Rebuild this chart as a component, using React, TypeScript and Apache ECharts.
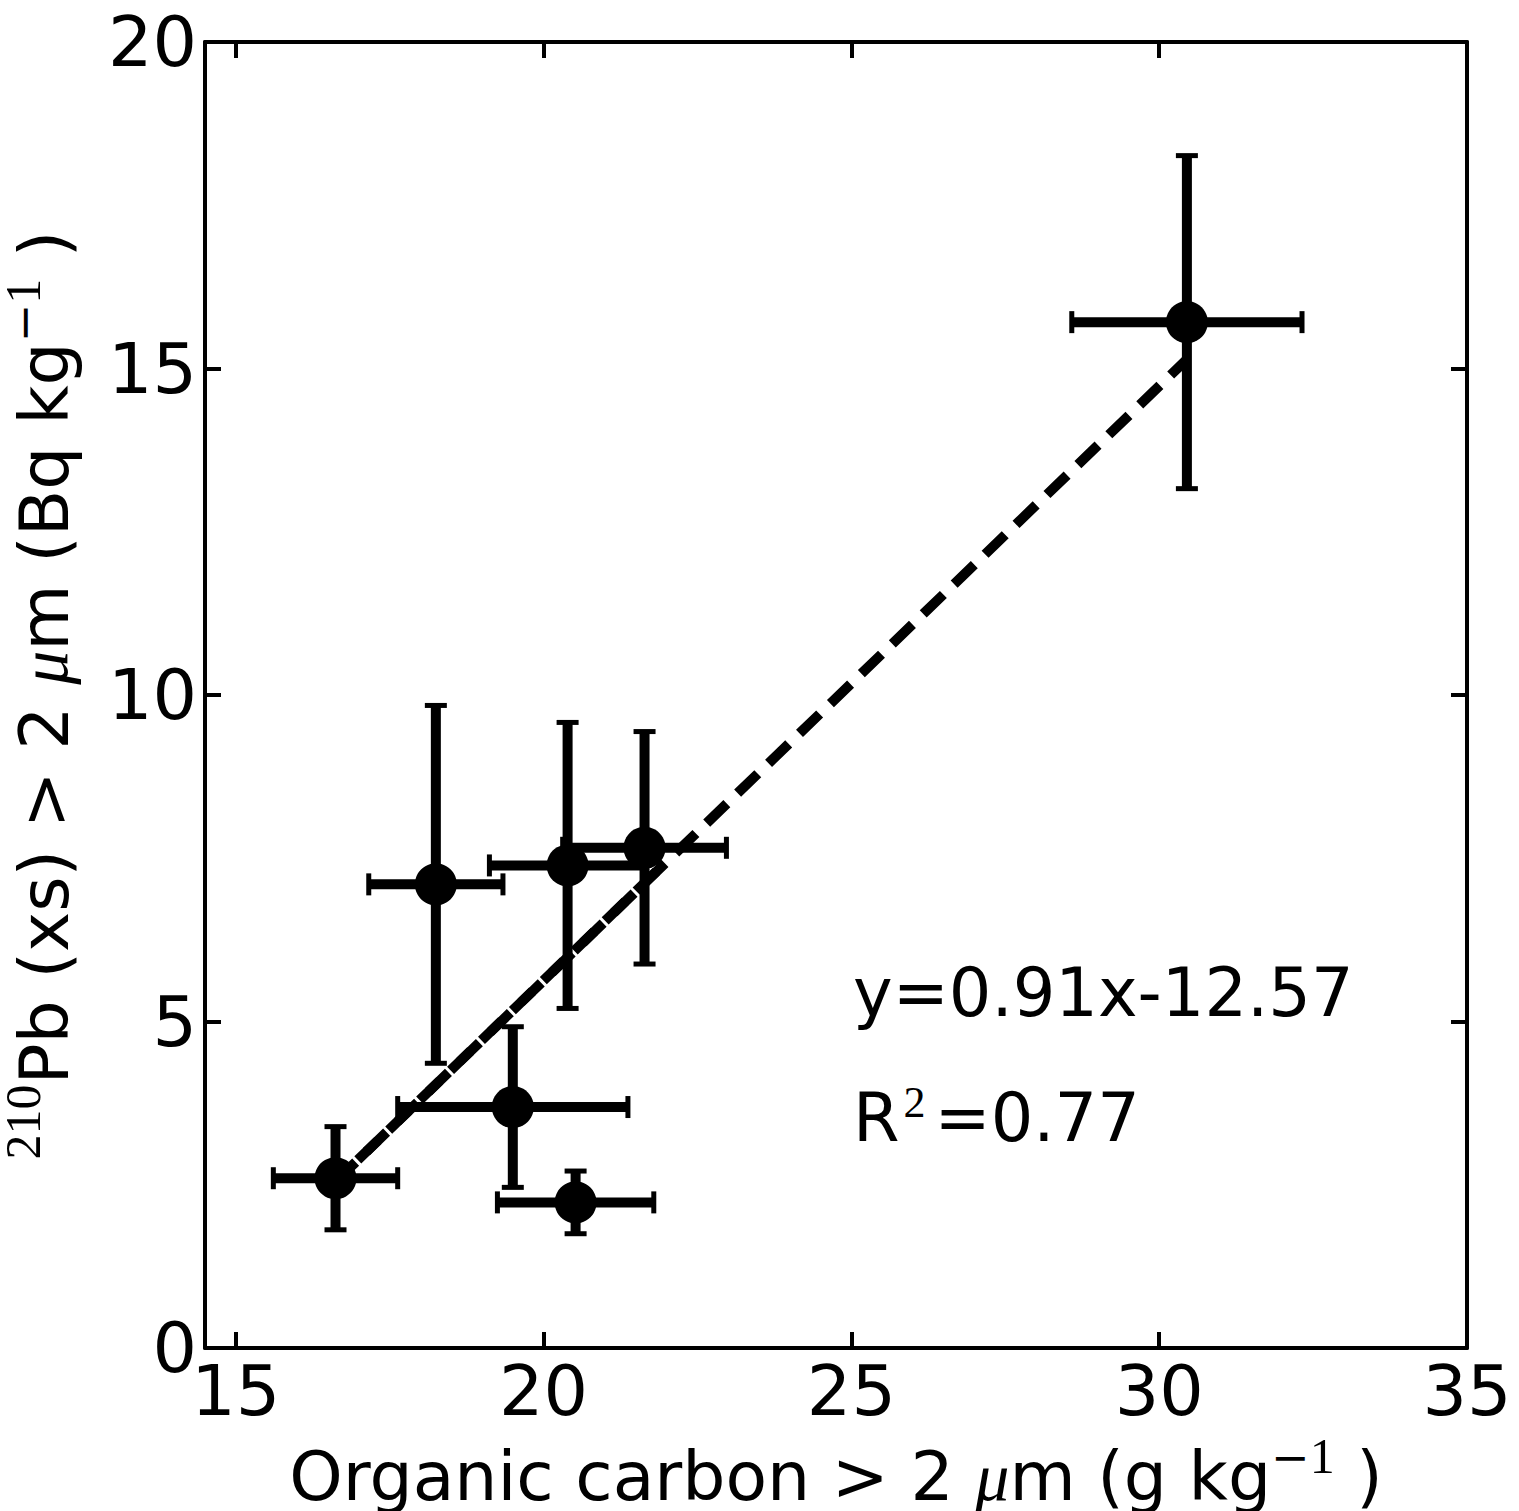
import React, { useEffect, useRef } from "react";
import * as echarts from "echarts";

// Data
const ocValues = [16.62, 18.25, 20.39, 21.64, 19.5, 20.52, 30.45];
const pbValues = [2.6, 7.1, 7.39, 7.66, 3.69, 2.23, 15.71];
const ocErrors = [1.01, 1.09, 1.27, 1.33, 1.87, 1.27, 1.87];
const pbErrors = [0.79, 2.74, 2.19, 1.78, 1.23, 0.48, 2.55];

const fitX = [16.62, 30.45];
const fitY = [2.55, 15.14];
const fitOverlayX = [16.62, 21.9];
const fitOverlayY = [2.55, 7.36];

const xTicks = [15, 20, 25, 30, 35];
const yTicks = [0, 5, 10, 15, 20];
const equationText = "y=0.91x-12.57";
const r2Text = "0.77";

const SANS = "DejaVu Sans";
const SERIF = "Liberation Serif";

export default function App() {
  const ref = useRef<HTMLDivElement>(null);
  useEffect(() => {
    document.body.style.margin = "0";
    document.body.style.overflow = "hidden";
    const chart = echarts.init(ref.current!, null, { renderer: "svg" });

    const points = ocValues.map((x, i) => [x, pbValues[i]]);
    const errData = ocValues.map((x, i) => [x, pbValues[i], ocErrors[i], pbErrors[i]]);

    const richLabel = {
      sup: { fontSize: 50, fontFamily: SERIF, color: "#000", verticalAlign: "top", lineHeight: 20, padding: [-12, 0, 0, 0] },
      supm: { fontSize: 46, fontFamily: SANS, color: "#000", verticalAlign: "top", lineHeight: 20, padding: [-9, 0, 0, 0] },
      mu: { fontSize: 68, fontFamily: SERIF, fontStyle: "italic", color: "#000" },
    };

    const axisCommon = {
      type: "value",
      axisLine: { show: true, onZero: false, lineStyle: { color: "#000", width: 4 } },
      axisTick: { show: true, inside: true, length: 16, lineStyle: { color: "#000", width: 4 } },
      splitLine: { show: false },
    };

    const option: any = {
      animation: false,
      backgroundColor: "#fff",
      grid: { left: 205, top: 42, width: 1262, height: 1306, containLabel: false, outerBoundsMode: "none" },
      xAxis: [
        {
          ...axisCommon,
          position: "bottom",
          min: 14.5,
          max: 35,
          axisTick: { ...axisCommon.axisTick, customValues: xTicks },
          axisLabel: {
            customValues: xTicks,
            fontSize: 70,
            fontFamily: SANS,
            color: "#000",
            margin: 8,
            showMinLabel: true,
            showMaxLabel: true,
          },
          name: "Organic carbon > 2 {mu|μ}m (g kg{supm|−}{sup|1} )",
          nameLocation: "middle",
          nameGap: 83,
          nameTextStyle: { fontSize: 68, fontFamily: SANS, color: "#000", rich: richLabel },
        },
        {
          ...axisCommon,
          position: "top",
          min: 14.5,
          max: 35,
          axisTick: { ...axisCommon.axisTick, customValues: xTicks },
          axisLabel: { show: false },
        },
      ],
      yAxis: [
        {
          ...axisCommon,
          position: "left",
          min: 0,
          max: 20,
          interval: 5,
          axisTick: { ...axisCommon.axisTick, customValues: yTicks },
          axisLabel: {
            customValues: yTicks,
            fontSize: 70,
            fontFamily: SANS,
            color: "#000",
            margin: 8,
            showMinLabel: true,
            showMaxLabel: true,
          },
          name: "{sup|210}Pb (xs) > 2 {mu|μ}m (Bq kg{supm|−}{sup|1} )",
          nameLocation: "middle",
          nameGap: 127,
          nameRotate: 90,
          nameTextStyle: { fontSize: 68, fontFamily: SANS, color: "#000", rich: richLabel },
        },
        {
          ...axisCommon,
          position: "right",
          min: 0,
          max: 20,
          interval: 5,
          axisLabel: { show: false },
        },
      ],
      graphic: [
        {
          type: "text",
          x: 853,
          y: 1026,
          style: {
            text: equationText,
            fontSize: 67,
            fontFamily: SANS,
            fill: "#000",
            verticalAlign: "bottom",
          },
          z: 100,
        },
        {
          type: "text",
          x: 853,
          y: 1151,
          style: {
            text: "{r|R}{s|2}{r|=" + r2Text + "}",
            fontSize: 67,
            fontFamily: SANS,
            fill: "#000",
            verticalAlign: "bottom",
            rich: {
              r: { fontSize: 67, fontFamily: SANS, fill: "#000" },
              s: { fontSize: 44, fontFamily: SERIF, fill: "#000", verticalAlign: "top", lineHeight: 20, padding: [-4, 9, 0, 4] },
            },
          },
          z: 100,
        },
      ],
      series: [
        {
          type: "custom",
          xAxisIndex: 0,
          yAxisIndex: 0,
          data: errData,
          encode: { x: 0, y: 1 },
          z: 2,
          renderItem: (params: any, api: any) => {
            const x = api.value(0);
            const y = api.value(1);
            const xe = api.value(2);
            const ye = api.value(3);
            const l = api.coord([x - xe, y]);
            const r = api.coord([x + xe, y]);
            const t = api.coord([x, y + ye]);
            const b = api.coord([x, y - ye]);
            const barStyle = { stroke: "#000", lineWidth: 10 };
            const capStyle = { stroke: "#000", lineWidth: 5 };
            const cap = 11;
            return {
              type: "group",
              children: [
                { type: "line", shape: { x1: l[0], y1: l[1], x2: r[0], y2: r[1] }, style: barStyle },
                { type: "line", shape: { x1: t[0], y1: t[1], x2: b[0], y2: b[1] }, style: barStyle },
                { type: "line", shape: { x1: l[0], y1: l[1] - cap, x2: l[0], y2: l[1] + cap }, style: capStyle },
                { type: "line", shape: { x1: r[0], y1: r[1] - cap, x2: r[0], y2: r[1] + cap }, style: capStyle },
                { type: "line", shape: { x1: t[0] - cap, y1: t[1], x2: t[0] + cap, y2: t[1] }, style: capStyle },
                { type: "line", shape: { x1: b[0] - cap, y1: b[1], x2: b[0] + cap, y2: b[1] }, style: capStyle },
              ],
            };
          },
        },
        {
          type: "scatter",
          data: points,
          symbol: "circle",
          symbolSize: 42,
          itemStyle: { color: "#000", opacity: 1 },
          z: 3,
        },
        {
          type: "line",
          data: fitX.map((x, i) => [x, fitY[i]]),
          showSymbol: false,
          symbol: "none",
          lineStyle: { color: "#000", width: 10, type: [28, 15], cap: "butt" },
          z: 4,
        },
        {
          type: "line",
          data: fitOverlayX.map((x, i) => [x, fitOverlayY[i]]),
          showSymbol: false,
          symbol: "none",
          lineStyle: { color: "#000", width: 10, type: [28, 15], dashOffset: 12, cap: "butt" },
          z: 4,
        },
      ],
    };
    chart.setOption(option);
    return () => chart.dispose();
  }, []);
  return <div ref={ref} style={{ width: 1519, height: 1511 }} />;
}
